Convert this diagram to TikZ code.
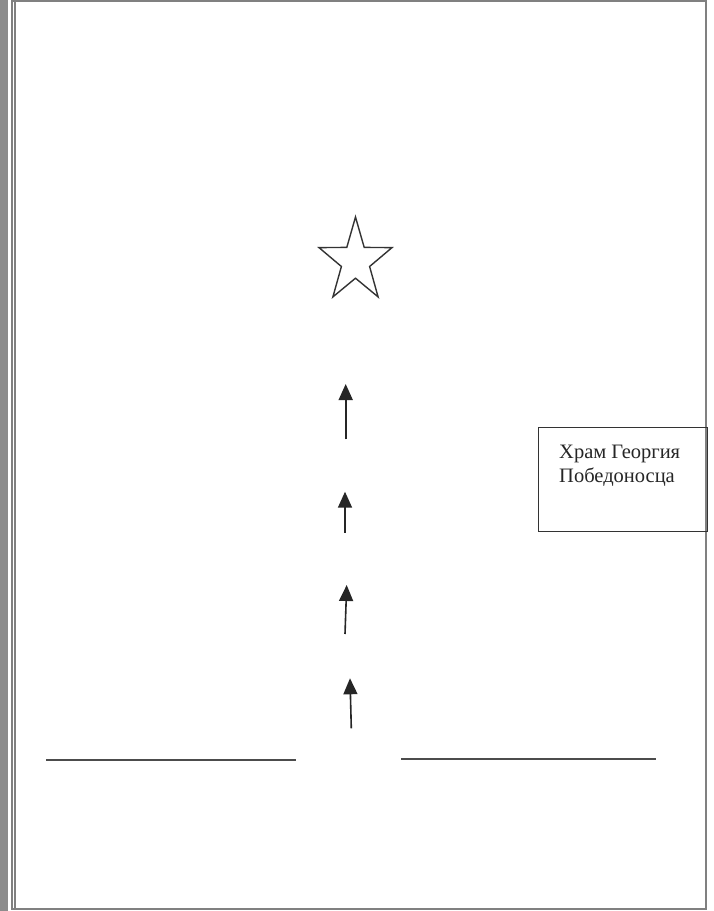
\documentclass[tikz,border=0pt]{standalone}
\usepackage{fontspec}
\setmainfont{Liberation Serif}
\usetikzlibrary{arrows.meta}
\usetikzlibrary{positioning}

\tikzset{
  frameline/.style={draw=black!50, line width=1.2pt},
  road/.style={draw=black!70, line width=2pt},
  route/.style={draw=black!85, line width=1.6pt, -{Triangle[length=16pt,width=14pt]}},
}

\begin{document}
\begin{tikzpicture}[x=1pt,y=-1pt]
\useasboundingbox (0,0) rectangle (714,911);
\fill[white] (0,0) rectangle (714,911);
\fill[black!45] (0,0) rectangle (8,911);
% sheet border
\draw[frameline] (12,1) -- (706,1) -- (706,909) -- (12,909) -- cycle;
\draw[frameline] (15,1) -- (15,909);

% star
\draw[draw=black!80, line width=1.4pt, line join=miter] (355.5,217) -- (364.2,247.4) -- (392,247.6) -- (369.6,266.5)
  -- (378.1,296.9) -- (355.5,278.2) -- (332.9,296.9) -- (341.4,266.5) -- (319,247.6) -- (346.8,247.4) -- cycle;

% route
\foreach \xa/\ya/\xb/\yb in {345.7/439.3/345.7/384, 345/532.7/345/491.7, 345/634/346.7/585, 351.3/728.3/350/678.3}
  \draw[route] (\xa,\ya) -- (\xb,\yb);

% road
\draw[road] (46,760) -- (296,760);
\draw[road] (401,759) -- (656,759);

% church
\node[draw=black!80, line width=1.4pt, minimum width=169pt, minimum height=104pt, anchor=north west, inner sep=0] (hram) at (537.5,426.5) {};
\node[anchor=base west, align=left, text=black!85, font=\fontsize{20.5}{24.5}\selectfont, inner sep=0] (hramtxt) at ([shift={(21.5,56)}]hram.north west) {Храм Георгия\\Победоносца};

\end{tikzpicture}
\end{document}
